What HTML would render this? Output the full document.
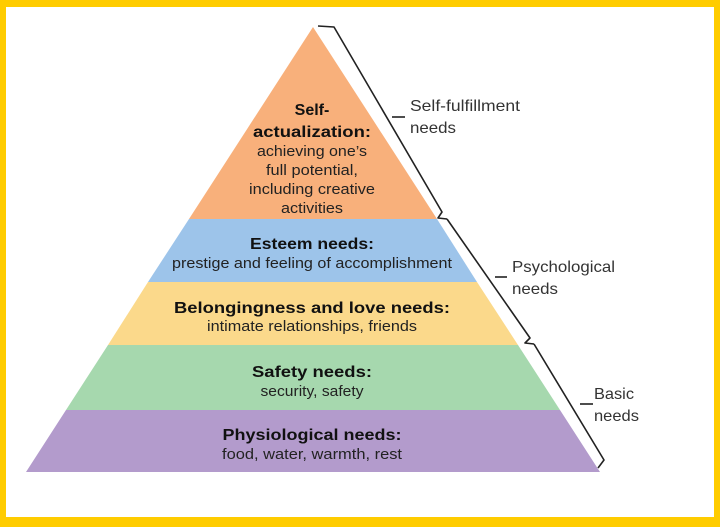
<!DOCTYPE html>
<html><head><meta charset="utf-8"><style>
html,body{margin:0;padding:0;background:#fff}
svg{display:block}
text{font-family:"Liberation Sans",sans-serif;fill:#222}
.b{font-weight:bold;font-size:16px;fill:#111}
.r{font-size:15px}
.l{font-size:16px;fill:#333}
</style></head><body>
<svg width="720" height="527" viewBox="0 0 720 527" xmlns="http://www.w3.org/2000/svg">
<rect x="0" y="0" width="720" height="527" fill="#FFCC00"/>
<rect x="6" y="7" width="708" height="510" fill="#fff"/>
<polygon points="313,27 437,219 189,219" fill="#F8B07B"/>
<polygon points="189,219 437,219 477,282 148,282" fill="#9DC4EA"/>
<polygon points="148,282 477,282 518,345 108,345" fill="#FBD98B"/>
<polygon points="108,345 518,345 560,410 66,410" fill="#A6D8AE"/>
<polygon points="66,410 560,410 600,472 26,472" fill="#B39BCC"/>
<g fill="none" stroke="#222" stroke-width="1.6" stroke-linejoin="round">
<polyline points="318,26 334,27 442,212 438,218 447,219"/>
<polyline points="392,117 405,117"/>
<polyline points="447,219 530,338 525,343 534,344"/>
<polyline points="495,277 507,277"/>
<polyline points="534,344 604,460 598,468"/>
<polyline points="580,404 593,404"/>
</g>
<g lengthAdjust="spacingAndGlyphs">
<text class="l" x="410" y="111" textLength="110" lengthAdjust="spacingAndGlyphs">Self-fulfillment</text>
<text class="l" x="410" y="133" textLength="46" lengthAdjust="spacingAndGlyphs">needs</text>
<text class="l" x="512" y="272" textLength="103" lengthAdjust="spacingAndGlyphs">Psychological</text>
<text class="l" x="512" y="294" textLength="46" lengthAdjust="spacingAndGlyphs">needs</text>
<text class="l" x="594" y="399" textLength="40" lengthAdjust="spacingAndGlyphs">Basic</text>
<text class="l" x="594" y="421" textLength="45" lengthAdjust="spacingAndGlyphs">needs</text>
</g>
<g text-anchor="middle">
<text class="b" x="312" y="115">Self-</text>
<text class="b" x="312" y="137" textLength="118" lengthAdjust="spacingAndGlyphs">actualization:</text>
<text class="r" x="312" y="156" textLength="110" lengthAdjust="spacingAndGlyphs">achieving one’s</text>
<text class="r" x="312" y="175" textLength="92" lengthAdjust="spacingAndGlyphs">full potential,</text>
<text class="r" x="312" y="194" textLength="126" lengthAdjust="spacingAndGlyphs">including creative</text>
<text class="r" x="312" y="213" textLength="62" lengthAdjust="spacingAndGlyphs">activities</text>
<text class="b" x="312" y="249" textLength="124" lengthAdjust="spacingAndGlyphs">Esteem needs:</text>
<text class="r" x="312" y="268" textLength="280" lengthAdjust="spacingAndGlyphs">prestige and feeling of accomplishment</text>
<text class="b" x="312" y="313" textLength="276" lengthAdjust="spacingAndGlyphs">Belongingness and love needs:</text>
<text class="r" x="312" y="331" textLength="210" lengthAdjust="spacingAndGlyphs">intimate relationships, friends</text>
<text class="b" x="312" y="377" textLength="120" lengthAdjust="spacingAndGlyphs">Safety needs:</text>
<text class="r" x="312" y="396" textLength="103" lengthAdjust="spacingAndGlyphs">security, safety</text>
<text class="b" x="312" y="440" textLength="179" lengthAdjust="spacingAndGlyphs">Physiological needs:</text>
<text class="r" x="312" y="459" textLength="180" lengthAdjust="spacingAndGlyphs">food, water, warmth, rest</text>
</g>
</svg>
</body></html>
